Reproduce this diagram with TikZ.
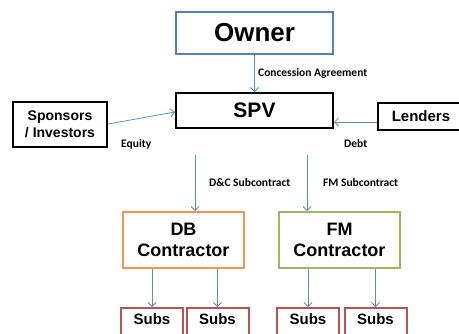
\documentclass[tikz,border=0pt]{standalone}
\usepackage{fontspec}
\setmainfont{Liberation Sans}
\newfontfamily\lblfont{Carlito}
\usetikzlibrary{arrows.meta}
\definecolor{bluebd}{HTML}{4F81BD}
\definecolor{arrowc}{HTML}{5B8DCB}
\definecolor{orangebd}{HTML}{F79646}
\definecolor{greenbd}{HTML}{9BBB59}
\definecolor{redbd}{HTML}{C0504D}
\begin{document}
\begin{tikzpicture}[x=1pt,y=-1pt,
  box/.style={draw, line width=2pt, fill=white, inner sep=0pt, font=\bfseries, align=center},
  conn/.style={draw=arrowc, line width=0.8pt, -{Straight Barb[length=4pt,width=8pt]}},
  lbl/.style={font=\lblfont\bfseries\fontsize{11.5}{13}\selectfont, inner sep=0pt}]
\useasboundingbox (0,0) rectangle (459,333);
\clip (0,0) rectangle (459,333);
% boxes
\node[box, draw=bluebd, minimum width=157pt, minimum height=42pt, font=\bfseries\fontsize{26}{28}\selectfont] (owner) at (254.5,33) {Owner};
\node[box, minimum width=157pt, minimum height=35pt, font=\bfseries\fontsize{21}{24}\selectfont] (spv) at (254.5,110.5) {SPV};
\node[box, minimum width=94pt, minimum height=45pt, font=\bfseries\fontsize{14}{17}\selectfont] (spons) at (60,124.5) {Sponsors\\/ Investors};
\node[box, minimum width=90pt, minimum height=27pt, anchor=west, font=\bfseries\fontsize{15}{18}\selectfont] (lend) at (377,116.5) {\hspace*{-4pt}Lenders};
\node[box, draw=orangebd, minimum width=121pt, minimum height=56pt, font=\bfseries\fontsize{18}{21}\selectfont] (db) at (183.5,240) {DB\\Contractor};
\node[box, draw=greenbd, minimum width=121pt, minimum height=56pt, font=\bfseries\fontsize{18}{21}\selectfont] (fm) at (339.5,240) {FM\\Contractor};
\node[box, draw=redbd, minimum width=62pt, minimum height=40pt, anchor=north, font=\bfseries\fontsize{15}{18}\selectfont, text depth=18pt] (s1) at (152,307) {Subs};
\node[box, draw=redbd, minimum width=62pt, minimum height=40pt, anchor=north, font=\bfseries\fontsize{15}{18}\selectfont, text depth=18pt] (s2) at (217.5,307) {Subs};
\node[box, draw=redbd, minimum width=62pt, minimum height=40pt, anchor=north, font=\bfseries\fontsize{15}{18}\selectfont, text depth=18pt] (s3) at (308,307) {Subs};
\node[box, draw=redbd, minimum width=62pt, minimum height=40pt, anchor=north, font=\bfseries\fontsize{15}{18}\selectfont, text depth=18pt] (s4) at (375.5,307) {Subs};
% connectors
\draw[conn] (owner.south) -- (spv.north);
\draw[conn] (spons.east |- 0,124) -- (spv.west |- 0,112);
\draw[conn] (lend.west |- 0,122) -- (spv.east |- 0,122);
\coordinate (dctop) at (195,155);
\coordinate (fmtop) at (307,155);
\draw[conn] (dctop) -- (db.north -| dctop);
\draw[conn] (fmtop) -- (fm.north -| fmtop);
\draw[conn] (db.south -| s1) -- (s1.north);
\draw[conn] (db.south -| s2) -- (s2.north);
\draw[conn] (fm.south -| s3) -- (s3.north);
\draw[conn] (fm.south -| s4) -- (s4.north);
% labels
\node[lbl, anchor=west] (l1) at (258,73) {Concession Agreement};
\node[lbl, anchor=west] (l2) at (121,144) {Equity};
\node[lbl, anchor=west] (l3) at (344,144) {Debt};
\node[lbl, anchor=west] (l4) at (209,183) {D\&C Subcontract};
\node[lbl, anchor=west] (l5) at (323,183) {FM Subcontract};
\end{tikzpicture}
\end{document}
